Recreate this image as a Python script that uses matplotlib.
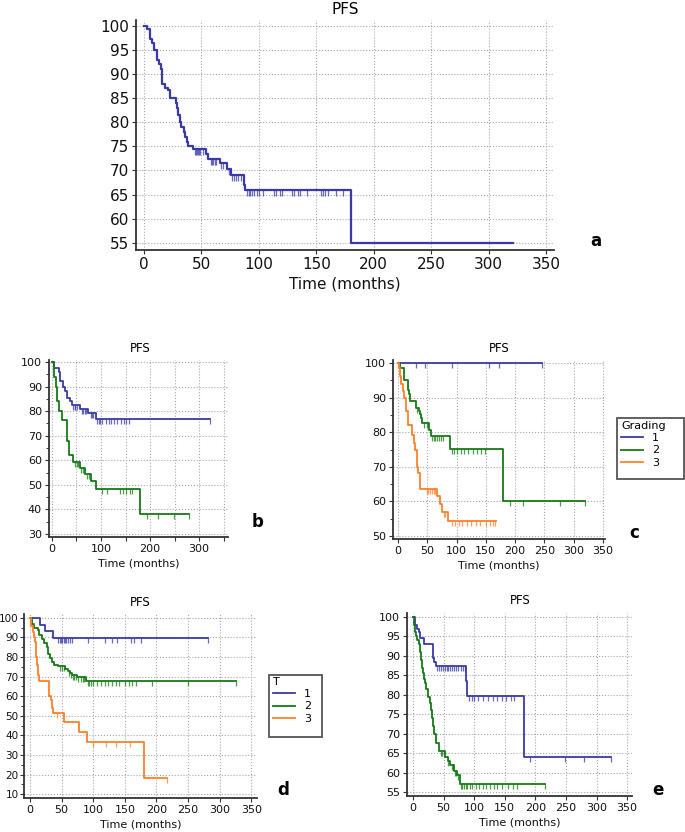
import numpy as np
import matplotlib
matplotlib.use("Agg")
import matplotlib.pyplot as plt
from matplotlib.ticker import MultipleLocator
from matplotlib.patches import Rectangle

plt.rcParams['font.family'] = ['DejaVu Sans']

BLUE = '#3a3aa6'
GREEN = '#167a16'
ORANGE = '#ff7f27'

# ---- panel a: overall PFS ----
a_times = [3, 5, 7, 9, 11, 13, 15, 16, 18, 21, 23, 28, 29, 30, 31, 32, 35, 36, 37, 38,
           43, 54, 56, 66, 72, 76, 87, 88, 180]
a_surv = [99.3, 97.2, 96.4, 95, 93, 92, 91, 88, 87.2, 86.7, 85, 84, 83, 81.5, 80, 79, 78, 77, 76, 75,
          74.4, 73.4, 72.4, 71.5, 70.3, 69, 67, 66, 55]
a_end = 321
a_cens = [44, 45, 46, 47, 48, 49, 51, 58, 59, 60, 62, 63, 67, 69, 74, 77, 78, 80, 82, 84,
          90, 91, 92, 94, 96, 98, 100, 104, 113, 115, 118, 120, 129, 131, 134, 136, 142,
          154, 156, 158, 160, 167, 173]

# ---- panel b: two groups ----
b1_times = [4, 14, 16, 22, 27, 31, 36, 40, 57, 74, 89]
b1_surv = [97.6, 96, 92.3, 89.8, 88, 85.5, 84.1, 82.6, 81, 79.3, 76.6]
b1_end = 323
b1_cens = [43, 46, 48, 51, 61, 64, 67, 70, 79, 81, 84, 91, 95, 99, 103, 110, 116, 121,
           127, 133, 140, 146, 152, 158, 323]
b2_times = [4, 8, 10, 14, 21, 31, 35, 42, 57, 68, 80, 90, 180]
b2_surv = [94, 90, 84, 80, 76.2, 68, 62, 59.5, 57, 54.5, 51.4, 48.2, 38.3]
b2_end = 280
b2_cens = [47, 51, 53, 60, 63, 72, 76, 103, 113, 138, 144, 151, 159, 164, 193, 217, 249, 280]

# ---- panel c: grading ----
c_groups = ['1', '2', '3']
c1_times = []
c1_surv = []
c1_end = 246
c1_cens = [31, 46, 92, 156, 173, 246]
c2_times = [3.4, 10.3, 16.5, 18.5, 20.5, 30.2, 35.3, 37, 39.3, 41.6, 53, 56.4, 88.9, 179]
c2_surv = [98.6, 95, 92.1, 91.1, 89, 87, 86, 85.2, 84.1, 82.6, 80.5, 78.9, 75.1, 60.2]
c2_end = 320
c2_cens = [33, 44, 49, 58, 61, 64, 67, 70, 73, 77, 92, 96, 101, 107, 113, 120, 128, 135,
           142, 148, 191, 214, 277, 320]
c3_times = [2, 3.4, 5, 8, 10.3, 13.7, 16.5, 24.5, 28, 29.6, 31.9, 34.8, 37.6, 66, 71.8, 75.8, 86]
c3_surv = [98.5, 96.2, 94, 92, 89.8, 86, 82.2, 79.2, 77, 75, 70, 68.3, 63.6, 61.5, 59.3, 56.9, 54.2]
c3_end = 167
c3_cens = [49, 52, 55, 58, 61, 64, 78, 80, 92, 98, 104, 110, 118, 125, 133, 140, 150,
           157, 162, 166]

# ---- panel d: T stage ----
d_groups = ['1', '2', '3']
d1_times = [16, 23, 37]
d1_surv = [96.5, 93.2, 89.6]
d1_end = 281
d1_cens = [45, 47, 49, 51, 53, 55, 57, 60, 63, 67, 92, 119, 130, 137, 159, 164, 175, 281]
d2_times = [2.6, 7, 12, 15, 18.5, 22.7, 26.4, 29, 31.7, 35.4, 38.6, 45, 55.5, 60, 63.5, 66, 74, 88.8]
d2_surv = [97, 95, 94, 91.5, 89, 87, 85, 81.5, 79.5, 77.5, 76, 75.5, 74, 73, 72, 71, 70, 67.8]
d2_end = 325
d2_cens = [47, 50, 53, 62, 65, 68, 70, 72, 76, 80, 84, 86, 91, 94, 97, 100, 106, 112, 118,
           124, 130, 136, 140, 150, 156, 162, 168, 193, 250, 325]
d3_times = [1, 4, 6, 8, 9.5, 11.5, 13, 14.3, 30.7, 33, 35, 37, 54, 77.7, 89.9, 181]
d3_surv = [96, 93, 90, 87.5, 80, 76, 71, 68, 60, 58, 54, 51.3, 46.6, 41.5, 36.5, 18.3]
d3_end = 216
d3_cens = [43, 99, 120, 136, 158, 216]

# ---- panel e: two groups ----
e1_times = [3, 6, 9, 12, 17.5, 32, 35, 37.5, 86.5, 89, 181]
e1_surv = [98, 97, 96, 94.7, 93, 89.5, 88.3, 87.3, 83.5, 79.8, 63.9]
e1_end = 324
e1_cens = [40, 43, 46, 49, 52, 55, 58, 61, 64, 67, 70, 74, 78, 82, 85, 92, 96, 100, 107,
           115, 122, 130, 137, 145, 152, 160, 165, 192, 248, 279, 324]
e2_times = [1.6, 3.3, 4.9, 7.1, 9.3, 10.9, 13.1, 14.2, 16.4, 18, 19.6, 21.8, 24, 27.3, 29.4,
            31.1, 33.3, 34.9, 37.1, 42, 52.3, 57.3, 61.1, 67.6, 72, 77.4]
e2_surv = [98, 96, 95, 94, 93, 91, 89, 87, 85.5, 84, 83, 81.5, 79.5, 78, 76, 74, 72, 70,
           67.5, 65.5, 64, 63, 62, 60.5, 59.5, 57.2]
e2_end = 216
e2_cens = [45, 48, 50, 58, 63, 65, 69, 71, 74, 78, 80, 83, 86, 89, 93, 97, 103, 108, 115,
           120, 126, 132, 138, 145, 155, 163, 170, 216]

W, H = 685, 832
fig = plt.figure(figsize=(W / 100, H / 100), dpi=100)


def px_axes(left, top, right, bottom):
    return fig.add_axes([left / W, 1 - bottom / H, (right - left) / W, (bottom - top) / H])


def px_box(left, top, right, bottom):
    # plain legend frame, drawn in figure pixels
    fig.patches.append(Rectangle((left / W, 1 - bottom / H), (right - left) / W, (bottom - top) / H,
                                 transform=fig.transFigure, fill=False,
                                 edgecolor='#555555', linewidth=1.3))


def km(ax, times, surv, end, cens, color, lw=1.3, ms=3.5, label=None):
    x = [0] + list(times) + [end]
    y = [100] + list(surv) + [surv[-1] if surv else 100]
    ax.step(x, y, where='post', color=color, lw=lw, label=label)
    t = np.array(cens, dtype=float)
    tt = np.array([0] + list(times))
    yy = np.array([100] + list(surv))
    idx = np.searchsorted(tt, t, side='right') - 1
    ax.plot(t, yy[idx], linestyle='none', marker=3, markersize=ms,
            markeredgewidth=0.9, color=color, alpha=0.75)


def style(ax, xlim, ylim, yticks, fs, xlabels=None, yminor=None, ypad=2):
    ax.set_xlim(*xlim)
    ax.set_ylim(*ylim)
    ax.set_xticks(np.arange(0, 351, 50))
    if xlabels is not None:
        ax.set_xticklabels(xlabels)
    ax.set_yticks(yticks)
    if yminor:
        ax.yaxis.set_minor_locator(MultipleLocator(yminor))
    for s in ['top', 'right']:
        ax.spines[s].set_visible(False)
    for s in ['left', 'bottom']:
        ax.spines[s].set_color('#333333')
        ax.spines[s].set_linewidth(1.3)
    ax.grid(True, which='major', color='#a8a8a8', linestyle=':', linewidth=0.8)
    ax.set_axisbelow(True)
    ax.tick_params(labelsize=fs, length=3, width=0.8, pad=2, colors='#333333', labelcolor='#111111')
    ax.tick_params(axis='y', pad=ypad)
    ax.tick_params(which='minor', length=2, width=0.7, colors='#333333')
    ax.set_xlabel('Time (months)', fontsize=fs, labelpad=3, color='#111111')


def legend(ax, title, left, top, fs):
    h, l = ax.get_legend_handles_labels()
    return fig.legend(h, l, title=title, loc='upper left', bbox_to_anchor=(left / W, 1 - top / H),
                      fontsize=fs, title_fontsize=fs, frameon=False, handlelength=2.0,
                      borderpad=0, labelspacing=0.2, handletextpad=0.8,
                      alignment='left', borderaxespad=0)


# panel a
ax_a = px_axes(136, 20, 554, 250)
km(ax_a, a_times, a_surv, a_end, a_cens, BLUE, lw=1.6, ms=4)
style(ax_a, (-7, 357), (53.5, 101.2), np.arange(55, 101, 5), 11)
ax_a.set_xlabel('Time (months)', fontsize=11, labelpad=3)
fig.text(345 / W, 1 - 2 / H, 'PFS', ha='center', va='top', fontsize=11)
fig.text(596 / W, 1 - 241 / H, 'a', ha='center', va='center', fontsize=12, fontweight='bold')

# panel b
ax_b = px_axes(49, 360, 228, 537)
km(ax_b, b1_times, b1_surv, b1_end, b1_cens, BLUE)
km(ax_b, b2_times, b2_surv, b2_end, b2_cens, GREEN)
style(ax_b, (-6, 359), (28.8, 100.8), np.arange(30, 101, 10), 8,
      xlabels=['0', '', '100', '', '200', '', '300', ''], yminor=5)
fig.text(140 / W, 1 - 348 / H, 'PFS', ha='center', va='center', fontsize=8.5)
fig.text(258 / W, 1 - 522 / H, 'b', ha='center', va='center', fontsize=12, fontweight='bold')

# panel c
ax_c = px_axes(393, 360, 605, 539)
km(ax_c, c1_times, c1_surv, c1_end, c1_cens, BLUE, label=c_groups[0])
km(ax_c, c2_times, c2_surv, c2_end, c2_cens, GREEN, label=c_groups[1])
km(ax_c, c3_times, c3_surv, c3_end, c3_cens, ORANGE, label=c_groups[2])
style(ax_c, (-8.5, 353.5), (49.1, 100.9), np.arange(50, 101, 10), 8, yminor=5)
fig.text(499 / W, 1 - 348 / H, 'PFS', ha='center', va='center', fontsize=8.5)
fig.text(634 / W, 1 - 533 / H, 'c', ha='center', va='center', fontsize=12, fontweight='bold')
px_box(617, 418, 684, 479)
legend(ax_c, 'Grading', 621, 421, 8)

# panel d
ax_d = px_axes(24, 614, 257, 798)
km(ax_d, d1_times, d1_surv, d1_end, d1_cens, BLUE, label=d_groups[0])
km(ax_d, d2_times, d2_surv, d2_end, d2_cens, GREEN, label=d_groups[1])
km(ax_d, d3_times, d3_surv, d3_end, d3_cens, ORANGE, label=d_groups[2])
style(ax_d, (-9.5, 359), (8, 102), np.arange(10, 101, 10), 8, yminor=5, ypad=1)
ax_d.tick_params(axis='y', labelsize=7.5)
fig.text(140 / W, 1 - 603 / H, 'PFS', ha='center', va='center', fontsize=8.5)
fig.text(283 / W, 1 - 790 / H, 'd', ha='center', va='center', fontsize=12, fontweight='bold')
px_box(269, 675, 322, 737)
legend(ax_d, 'T', 273, 677, 8)

# panel e
ax_e = px_axes(407, 613, 632, 796)
km(ax_e, e1_times, e1_surv, e1_end, e1_cens, BLUE)
km(ax_e, e2_times, e2_surv, e2_end, e2_cens, GREEN)
style(ax_e, (-9.8, 358), (54, 101), np.arange(55, 101, 5), 8)
fig.text(520 / W, 1 - 600 / H, 'PFS', ha='center', va='center', fontsize=8.5)
fig.text(658 / W, 1 - 790 / H, 'e', ha='center', va='center', fontsize=12, fontweight='bold')

fig.savefig('out.png', dpi=100)
